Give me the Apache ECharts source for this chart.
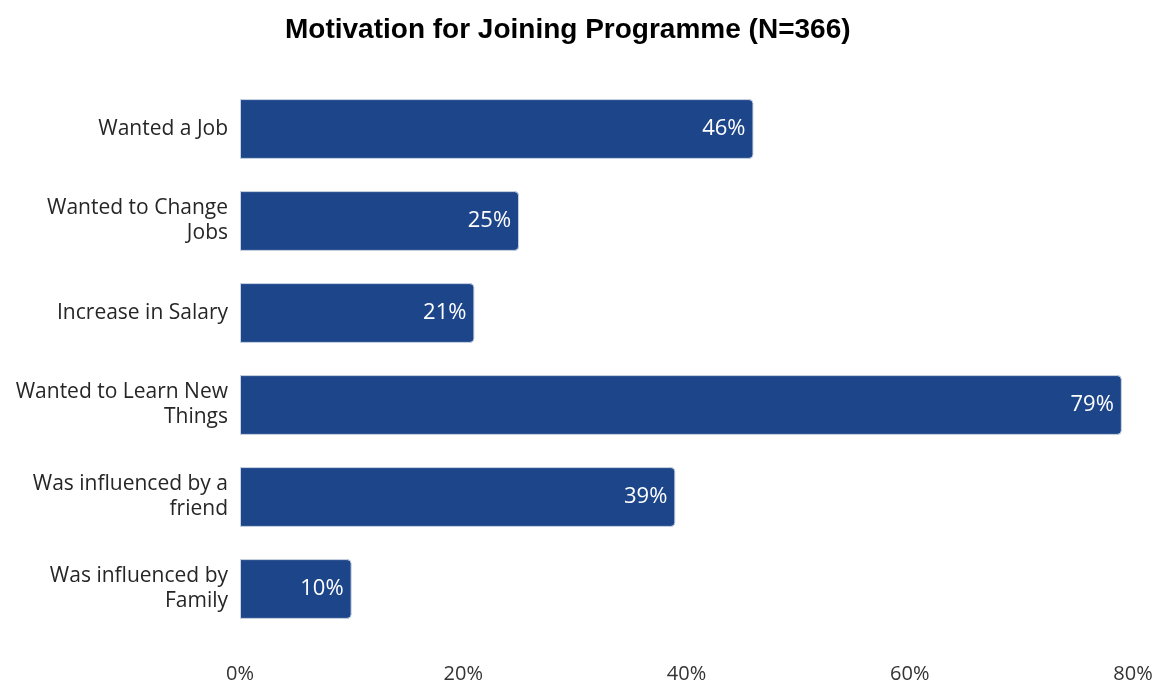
<!DOCTYPE html>
<html>
<head>
<meta charset="utf-8">
<title>Motivation for Joining Programme</title>
<script src="https://cdn.jsdelivr.net/npm/echarts@6/dist/echarts.min.js"></script>
<style>
  html, body { margin: 0; padding: 0; background: #ffffff; }
  #chart { width: 1161px; height: 685px; }
</style>
</head>
<body>
<div id="chart"></div>
<script>
// Survey responses, top to bottom as listed
const categories = [
  'Wanted a Job',
  'Wanted to Change\nJobs',
  'Increase in Salary',
  'Wanted to Learn New\nThings',
  'Was influenced by a\nfriend',
  'Was influenced by\nFamily'
];
const shares = [46, 25, 21, 79, 39, 10];
const xTicks = [0, 20, 40, 60, 80];

const chart = echarts.init(document.getElementById('chart'));
const baseFont = '"Open Sans", "Noto Sans", sans-serif';

chart.setOption({
  backgroundColor: '#ffffff',
  title: {
    text: 'Motivation for Joining Programme (N=366)',
    left: 280,
    top: 11,
    textStyle: {
      fontFamily: '"Liberation Sans", Arial, sans-serif',
      fontWeight: 'bold',
      fontSize: 28,
      color: '#000000'
    }
  },
  grid: { left: 240, right: 28, top: 83, bottom: 50, containLabel: false },
  xAxis: {
    type: 'value',
    min: xTicks[0],
    max: xTicks[xTicks.length - 1],
    interval: 20,
    axisLine: { show: false },
    axisTick: { show: false },
    splitLine: { show: false },
    axisLabel: {
      formatter: '{value}%',
      margin: 29,
      fontFamily: baseFont,
      fontSize: 20,
      color: '#333333'
    }
  },
  yAxis: {
    type: 'category',
    data: categories,
    inverse: true,
    axisLine: { show: false },
    axisTick: { show: false },
    axisLabel: {
      margin: 12,
      fontFamily: baseFont,
      fontSize: 21,
      lineHeight: 25,
      color: '#262626',
      align: 'right'
    }
  },
  series: [{
    type: 'bar',
    data: shares,
    barWidth: '65%',
    itemStyle: {
      color: '#1d4589',
      borderColor: '#c9d3e3',
      borderWidth: 1,
      borderRadius: [0, 4, 4, 0]
    },
    label: {
      show: true,
      position: 'insideRight',
      distance: 8,
      formatter: '{c}%',
      fontFamily: baseFont,
      fontSize: 22,
      fontWeight: 500,
      color: '#ffffff'
    },
    silent: true
  }],
  animation: false
});
</script>
</body>
</html>
